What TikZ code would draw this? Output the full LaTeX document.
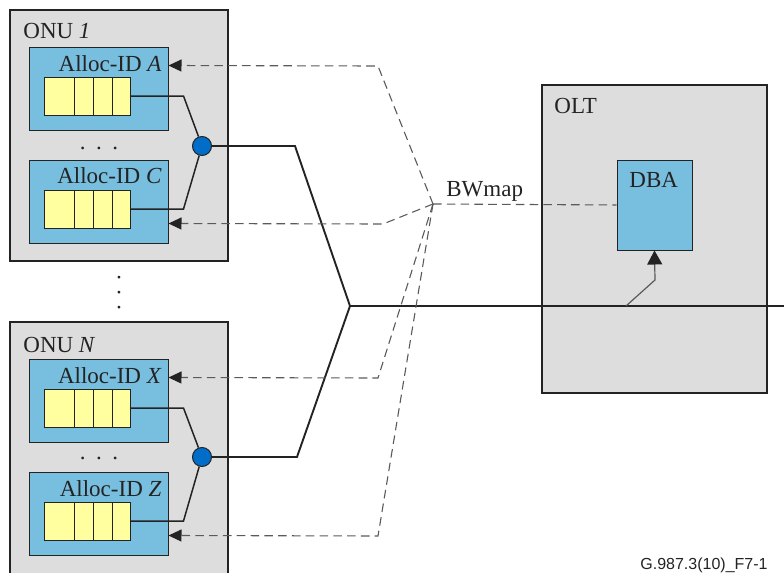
\documentclass[tikz,border=0pt]{standalone}
\usepackage{fontspec}
\setmainfont{Liberation Serif}
\newfontfamily\figsans{Liberation Sans}
\usetikzlibrary{arrows.meta,fit}
\definecolor{boxgray}{RGB}{221,221,221}
\definecolor{allocblue}{RGB}{120,190,222}
\definecolor{qyellow}{RGB}{255,255,160}
\definecolor{dotblue}{RGB}{0,110,200}
\definecolor{linedark}{RGB}{35,35,35}
\definecolor{dashgray}{RGB}{90,90,90}
\definecolor{stemgray}{RGB}{90,90,90}
\tikzset{
 unitbox/.style={draw=linedark, line width=1.1pt, fill=boxgray, inner sep=0pt},
 allocbox/.style={draw=linedark, line width=0.5pt, fill=allocblue, inner sep=0pt},
 queuebox/.style={draw=linedark, line width=0.5pt, fill=qyellow, inner sep=0pt},
 combiner/.style={circle, draw=linedark, line width=0.5pt, fill=dotblue, minimum size=9.5pt, inner sep=0pt},
 lbl/.style={font=\fontsize{11.5}{13}\selectfont, inner sep=0pt, text=linedark},
 link/.style={draw=linedark, line width=0.95pt},
 qlink/.style={draw=linedark, line width=0.75pt},
 ctrl/.style={draw=dashgray, line width=0.55pt, dash pattern=on 4.3pt off 2.6pt},
 tip/.style={-{Triangle[length=6.5pt,width=6pt,color=linedark]}},
 bigtip/.style={-{Triangle[length=7pt,width=7.5pt,color=linedark]}},
}
\begin{document}
\begin{tikzpicture}[x=0.5pt,y=-0.5pt]
\useasboundingbox (0,0) rectangle (784,573);
\clip (0,0) rectangle (784,573);

% ONU boxes
\node[unitbox, fit={(10,10)(228,261)}] (onu1) {};
\node[unitbox, fit={(10,322)(228,600)}] (onuN) {};
\node[lbl, anchor=base west] (onu1lab) at (23,39) {ONU \textit{1}};
\node[lbl, anchor=base west] (onuNlab) at (23,352) {ONU \textit{N}};

% OLT
\node[unitbox, fit={(542,85)(767,393)}] (olt) {};
\node[lbl, anchor=base west] (oltlab) at (554,113) {OLT};
\node[allocbox, fit={(617,160)(692,250)}] (dba) {};
\node[lbl, anchor=base west] (dbalab) at (629,187) {DBA};

% Alloc-ID blocks with queues
\foreach \n/\t in {A/47, C/160, X/359, Z/472}{
  \node[allocbox, fit={(29,\t)(168,\t+83)}] (alloc\n) {};
  \node[lbl, anchor=base east] (lab\n) at (162,\t+24) {Alloc-ID \textit{\n}};
  \node[queuebox, fit={(44,\t+30)(130,\t+68)}] (q\n) {};
  \foreach \x in {74,93,112}{
    \draw[linedark, line width=0.5pt] (\x,\t+30) -- (\x,\t+68);
  }
}

% horizontal dots
\node[lbl, anchor=base] (dots1) at (99,149) {.\hspace{5.2pt}.\hspace{5.2pt}.};
\node[lbl, anchor=base] (dotsN) at (99,459) {.\hspace{5.2pt}.\hspace{5.2pt}.};
% vertical dots
\node[lbl, rotate=90] (vdots) at (119,293) {.\hspace{4.6pt}.\hspace{4.6pt}.};

% combiners
\node[combiner] (c1) at (202,146) {};
\node[combiner] (cN) at (202,457) {};

\draw[qlink] (qA.east) -- ++(53,0) -- (c1);
\draw[qlink] (qC.east) -- ++(53,0) -- (c1);
\draw[qlink] (qX.east) -- ++(53,0) -- (cN);
\draw[qlink] (qZ.east) -- ++(53,0) -- (cN);

% trunk
\coordinate (split) at (350,306);
\coordinate (rightend) at (784,306);
\coordinate (tap) at (626,306);
\draw[link] (c1.east) -- (295,146) -- (split);
\draw[link] (cN.east) -- (297,457) -- (split);
\draw[link] (split) -- (rightend);
\draw[draw=stemgray, line width=0.6pt, bigtip] (tap) -- (655,280) -- (dba.south);

% BWmap
\coordinate (bw) at (433,204);
\node[lbl, anchor=base west] (bwlab) at (446,197) {BWmap};
\draw[ctrl] (bw) -- (dba.west);
\draw[ctrl, tip] (bw) -- (378,66) -- ([yshift=-9.5pt]allocA.north east);
\draw[ctrl, tip] (bw) -- (383,224) -- ([yshift=-32pt]allocC.north east);
\draw[ctrl, tip] (bw) -- (378,378) -- ([yshift=-9.5pt]allocX.north east);
\draw[ctrl, tip] (bw) -- (378,536) -- ([yshift=-32pt]allocZ.north east);

\node[font=\figsans\fontsize{8}{9.6}\selectfont, anchor=base west, inner sep=0pt, text=linedark] (figid) at (640,569) {G.987.3(10)\_F7-1};
\end{tikzpicture}
\end{document}
